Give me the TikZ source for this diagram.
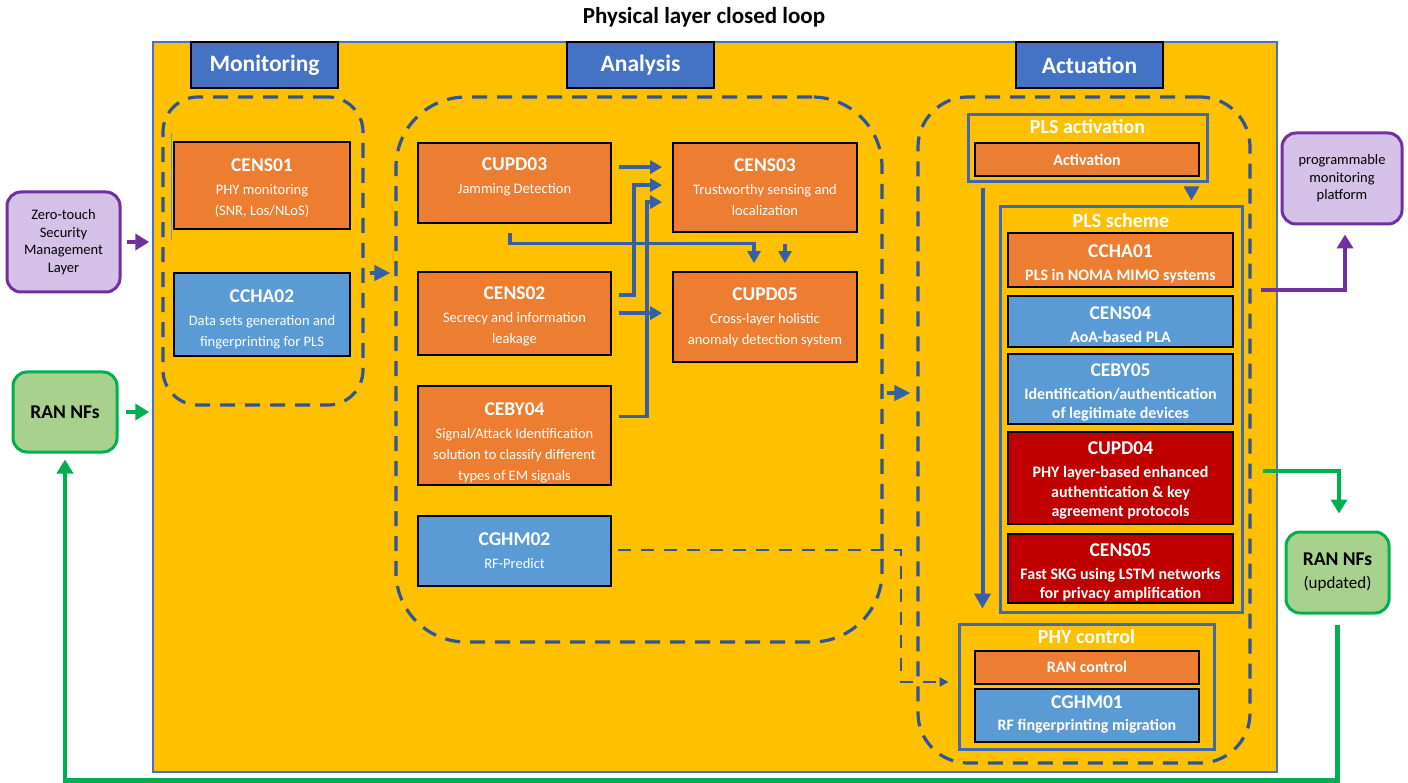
\documentclass[tikz,border=0pt]{standalone}
\usepackage{fontspec}
\setmainfont{Carlito}
\usetikzlibrary{arrows.meta,calc}

\definecolor{amber}{HTML}{FFC000}
\definecolor{frameblue}{HTML}{4472C4}
\definecolor{hdrblue}{HTML}{4472C4}
\definecolor{boxorange}{HTML}{ED7D31}
\definecolor{boxblue}{HTML}{5B9BD5}
\definecolor{boxred}{HTML}{C00000}
\definecolor{linkblue}{HTML}{3560A8}
\definecolor{dashblue}{HTML}{2F5597}
\definecolor{grpblue}{HTML}{4169B0}
\definecolor{lilac}{HTML}{D6C1E9}
\definecolor{plum}{HTML}{7030A0}
\definecolor{leaf}{HTML}{A9D18E}
\definecolor{emerald}{HTML}{00B050}

\newcommand\boxttl{\fontsize{19.5}{23}\selectfont\bfseries}
\newcommand\bx[2]{{\boxttl #1}\\[2pt]#2}
\newcommand\bxa[2]{{\boxttl #1}\\[3.5pt]#2}

\begin{document}
\begin{tikzpicture}[x=1pt,y=-1pt,
  cbox/.style={draw=black, line width=1.8pt, inner sep=0pt},
  obox/.style={cbox, fill=boxorange},
  bbox/.style={cbox, fill=boxblue},
  rbox/.style={cbox, fill=boxred},
  btxt/.style={align=center, text=white, inner sep=0pt, font=\fontsize{14.5}{21}\selectfont},
  atxt/.style={align=center, text=white, inner sep=0pt, font=\fontsize{16}{19.5}\selectfont\bfseries},
  hdr/.style={draw=black, line width=2pt, fill=hdrblue, text=white,
    font=\fontsize{23.5}{26}\selectfont\bfseries, minimum width=147, minimum height=46, inner sep=0pt},
  dashbox/.style={draw=dashblue, line width=3.2pt, dash pattern=on 15pt off 10pt, inner sep=0pt},
  grp/.style={draw=grpblue, line width=3pt, inner sep=0pt},
  grptitle/.style={text=white, font=\fontsize{20}{24}\selectfont\bfseries, inner sep=0pt},
  sidebox/.style={rounded corners=14pt, line width=3pt, align=center, inner sep=0pt},
  arr/.style={draw=linkblue, line width=3.2pt, -{Triangle[length=12pt,width=13pt]}},
  bigarr/.style={draw=linkblue, line width=4pt, -{Triangle[length=16pt,width=15pt]}},
  purarr/.style={draw=plum, line width=4.5pt, -{Triangle[length=14pt,width=16pt]}},
  grnarr/.style={draw=emerald, line width=4.5pt, -{Triangle[length=14pt,width=16pt]}},
  dasharr/.style={draw=dashblue, line width=2.6pt, dash pattern=on 13pt off 10pt, -{Triangle[length=9pt,width=9pt]}}
]
\fill[white] (0,0) rectangle (1408,783);
\useasboundingbox (0,0) rectangle (1408,783);

% title
\node[font=\fontsize{23}{27}\selectfont\bfseries, inner sep=0pt] (title) at (704,17) {Physical layer closed loop};

% main loop frame
\node[draw=frameblue, fill=amber, line width=1.5pt, minimum width=1124, minimum height=730, inner sep=0pt] (frame) at (715,407) {};

% stage groups
\node[dashbox, rounded corners=35pt, minimum width=200, minimum height=308] (mon) at (263,251) {};
\node[dashbox, rounded corners=70pt, minimum width=486, minimum height=545] (ana) at (639,369.5) {};
\node[dashbox, rounded corners=50pt, minimum width=332, minimum height=666] (act) at (1084,430) {};

% stage headers
\node[hdr] (hmon) at (264.5,65) {Monitoring};
\node[hdr] (hana) at (640.5,65) {Analysis};
\node[hdr] (hact) at (1089.5,65) {Actuation};

% monitoring
\draw[boxblue, line width=1pt] (171,133) -- (171,240);
\node[obox, minimum width=176, minimum height=87] (cens01) at (262,185.5) {};
\node[btxt] (cens01t) at ($(cens01)+(0,3)$) {\bx{CENS01}{PHY monitoring\\(SNR, Los/NLoS)}};
\node[bbox, minimum width=176, minimum height=83] (ccha02) at (262,314.5) {};
\node[btxt] (ccha02t) at ($(ccha02)+(0,5)$) {\bx{CCHA02}{Data sets generation and\\fingerprinting for PLS}};

% analysis
\node[obox, minimum width=193, minimum height=80] (cupd03) at (514.5,183) {};
\node[btxt] (cupd03t) at ($(cupd03)+(0,-6)$) {\bx{CUPD03}{Jamming Detection}};
\node[obox, minimum width=184, minimum height=89] (cens03) at (765,187.5) {};
\node[btxt] (cens03t) at (cens03) {\bx{CENS03}{Trustworthy sensing and\\localization}};
\node[obox, minimum width=193, minimum height=83] (cens02) at (514.5,313.5) {};
\node[btxt] (cens02t) at ($(cens02)+(0,3)$) {\bx{CENS02}{Secrecy and information\\leakage}};
\node[obox, minimum width=184, minimum height=90] (cupd05) at (765,317) {};
\node[btxt] (cupd05t) at (cupd05) {\bx{CUPD05}{Cross-layer holistic\\anomaly detection system}};
\node[obox, minimum width=193, minimum height=99] (ceby04) at (514.5,435.5) {};
\node[btxt] (ceby04t) at ($(ceby04)+(0,7)$) {\bx{CEBY04}{Signal/Attack Identification\\solution to classify different\\types of EM signals}};
\node[bbox, minimum width=193, minimum height=70] (cghm02) at (514.5,551) {};
\node[btxt] (cghm02t) at (cghm02) {\bx{CGHM02}{RF-Predict}};

% actuation: PLS activation
\node[grp, minimum width=239, minimum height=67] (plsact) at (1087.5,148.5) {};
\node[grptitle] (plsactt) at (1087.5,127) {PLS activation};
\node[obox, minimum width=224, minimum height=33] (activ) at (1087,159.5) {};
\node[atxt] (activt) at (activ) {Activation};

% actuation: PLS scheme
\node[grp, minimum width=242, minimum height=405] (plssch) at (1121,409.5) {};
\node[grptitle] (plsscht) at (1121,221) {PLS scheme};
\node[obox, minimum width=225, minimum height=54] (ccha01) at (1120.5,260) {};
\node[atxt] (ccha01t) at ($(ccha01)+(0,4)$) {\bxa{CCHA01}{PLS in NOMA MIMO systems}};
\node[bbox, minimum width=225, minimum height=51] (cens04) at (1120.5,321.5) {};
\node[atxt] (cens04t) at ($(cens04)+(0,3.5)$) {\bxa{CENS04}{AoA-based PLA}};
\node[bbox, minimum width=225, minimum height=70] (ceby05) at (1120.5,389) {};
\node[atxt] (ceby05t) at ($(ceby05)+(0,3.5)$) {\bxa{CEBY05}{Identification/authentication\\of legitimate devices}};
\node[rbox, minimum width=225, minimum height=92] (cupd04) at (1120.5,478) {};
\node[atxt] (cupd04t) at ($(cupd04)+(0,2.5)$) {\bxa{CUPD04}{PHY layer-based enhanced\\authentication \& key\\agreement protocols}};
\node[rbox, minimum width=225, minimum height=69] (cens05) at (1120.5,568.5) {};
\node[atxt] (cens05t) at ($(cens05)+(0,4)$) {\bxa{CENS05}{Fast SKG using LSTM networks\\for privacy amplification}};

% actuation: PHY control
\node[grp, minimum width=255, minimum height=125] (phyc) at (1086.5,686.5) {};
\node[grptitle] (phyct) at (1086.5,637) {PHY control};
\node[obox, minimum width=224, minimum height=33] (ranctl) at (1087,667.5) {};
\node[atxt] (ranctlt) at ($(ranctl)+(0,-1)$) {RAN control};
\node[bbox, minimum width=224, minimum height=53] (cghm01) at (1087,715.5) {};
\node[atxt] (cghm01t) at ($(cghm01)+(0,-1)$) {\bx{CGHM01}{RF fingerprinting migration}};

% outside blocks
\node[sidebox, draw=plum, fill=lilac, font=\fontsize{14.5}{17.5}\selectfont, minimum width=113, minimum height=100] (zt) at (63.5,242) {Zero-touch\\Security\\Management\\Layer};
\node[sidebox, draw=emerald, fill=leaf, font=\fontsize{19.5}{23}\selectfont\bfseries, minimum width=104, minimum height=80] (ran) at (65,412) {RAN NFs};
\node[sidebox, draw=plum, fill=lilac, font=\fontsize{14.5}{17.5}\selectfont, minimum width=120, minimum height=91] (pmp) at (1342,178.5) {programmable\\monitoring\\platform};
\node[sidebox, draw=emerald, fill=leaf, font=\fontsize{17}{23}\selectfont, minimum width=103, minimum height=81] (ranu) at (1337.5,572.5) {{\fontsize{19.5}{23}\selectfont\bfseries RAN NFs}\\(updated)};

% inputs to the loop
\draw[purarr, shorten >=3pt] ($(zt.east)+(5,0)$) -- (zt.east -| frame.west);
\draw[grnarr, shorten >=3pt] ($(ran.east)+(7,0)$) -- (ran.east -| frame.west);

% stage to stage
\coordinate (m2a) at ($(mon.east)+(5,22)$);
\draw[bigarr, shorten >=4pt] (m2a) -- (m2a -| ana.west);
\coordinate (a2c) at ($(ana.east)+(3,23.5)$);
\draw[bigarr, shorten >=6pt] (a2c) -- (a2c -| act.west);

% analysis links
\draw[arr] ($(cupd03.north east)+(7,25)$) -- ($(cens03.north west)+(-10,25)$);
\draw[arr] ($(cens02.north east)+(7,24)$) -- ++(15,0) |- ($(cens03.north west)+(-10,43)$);
\draw[arr] ($(ceby04.north east)+(7,31)$) -- ++(28,0) |- ($(cens03.north west)+(-10,60)$);
\draw[arr] ($(cens02.north east)+(7,42)$) -- ($(cupd05.north west)+(-10,42)$);
\draw[arr] ($(cupd03.south)+(-4.5,9)$) -- ++(0,11) -| ($(cupd05.north)+(-11,-8)$);
\draw[arr] ($(cens03.south)+(20,11)$) -- ($(cupd05.north)+(20,-8)$);

% RF-Predict feeds PHY control
\draw[dasharr] ($(cghm02.east)+(6,-1)$) -- ++(283,0) |- ($(phyc.west)+(-9,-4.5)$);

% actuation flow
\draw[draw=linkblue, line width=3pt, -{Triangle[length=14pt,width=15pt]}] ($(plsact.south east)+(-17,6)$) -- ($(plssch.north east)+(-52,-5)$);
\draw[draw=linkblue, line width=4pt, -{Triangle[length=15pt,width=16pt]}] ($(plsact.south west)+(16,5)$) -- ($(phyc.north west)+(25,-14)$);

% outputs of the loop
\draw[purarr] ($(ccha01.south east)+(27,2)$) -| ($(pmp.south)+(3,9)$);
\draw[grnarr] ($(cupd04.east)+(29,-7)$) -| ($(ranu.north)+(1.5,-17)$);
\draw[grnarr] ($(ranu.south)+(0,10)$) -- ++(0,156) -| ($(ran.south)+(0,6)$);
\end{tikzpicture}
\end{document}
